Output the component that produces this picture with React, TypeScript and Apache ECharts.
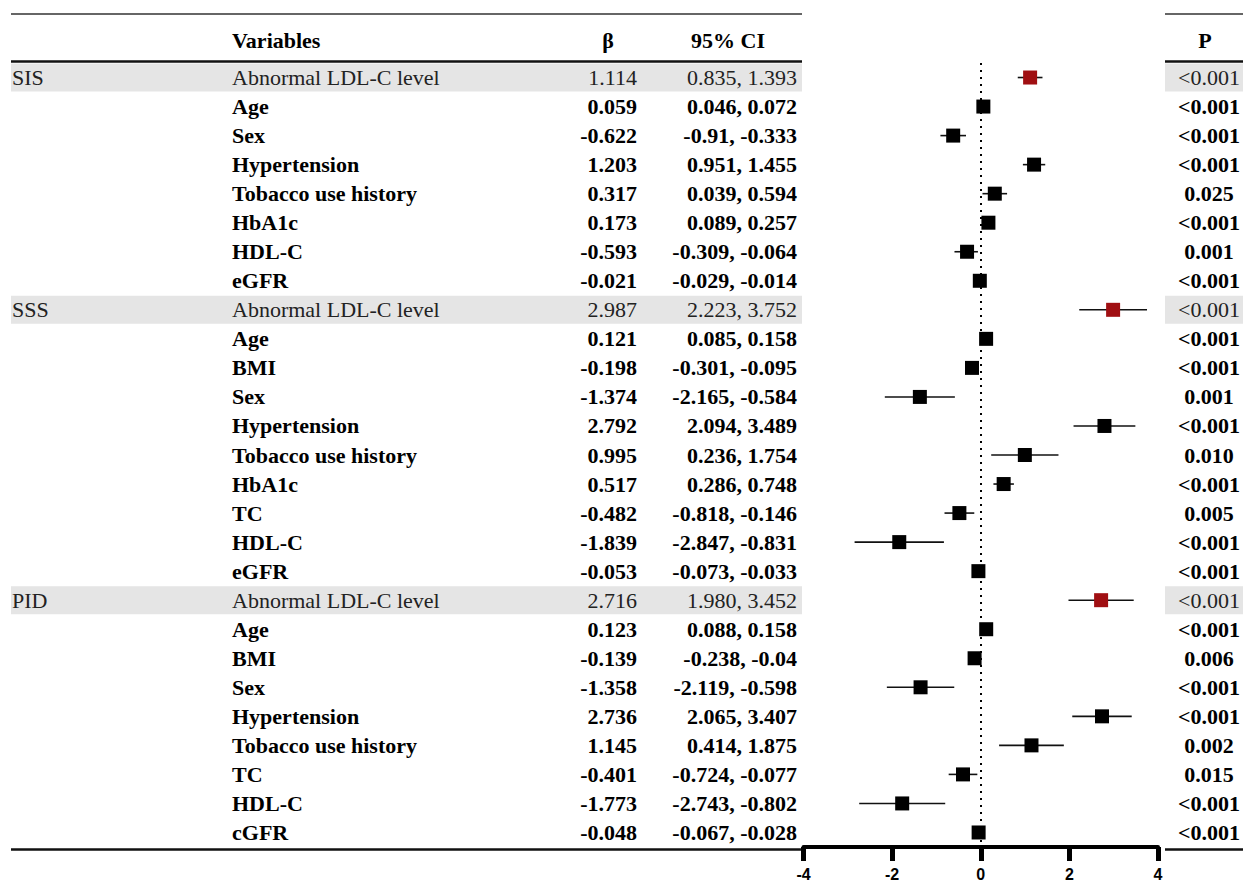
import React, { useEffect, useRef } from "react";
import * as echarts from "echarts";

const groupLabels = [
  "SIS", "", "", "", "", "", "", "",
  "SSS", "", "", "", "", "", "", "", "", "",
  "PID", "", "", "", "", "", "", "", "",
];
const variables = [
  "Abnormal LDL-C level", "Age", "Sex", "Hypertension", "Tobacco use history", "HbA1c", "HDL-C", "eGFR",
  "Abnormal LDL-C level", "Age", "BMI", "Sex", "Hypertension", "Tobacco use history", "HbA1c", "TC", "HDL-C", "eGFR",
  "Abnormal LDL-C level", "Age", "BMI", "Sex", "Hypertension", "Tobacco use history", "TC", "HDL-C", "cGFR",
];
const betaText = [
  "1.114", "0.059", "-0.622", "1.203", "0.317", "0.173", "-0.593", "-0.021",
  "2.987", "0.121", "-0.198", "-1.374", "2.792", "0.995", "0.517", "-0.482", "-1.839", "-0.053",
  "2.716", "0.123", "-0.139", "-1.358", "2.736", "1.145", "-0.401", "-1.773", "-0.048",
];
const ciLowText = [
  "0.835", "0.046", "-0.91", "0.951", "0.039", "0.089", "-0.309", "-0.029",
  "2.223", "0.085", "-0.301", "-2.165", "2.094", "0.236", "0.286", "-0.818", "-2.847", "-0.073",
  "1.980", "0.088", "-0.238", "-2.119", "2.065", "0.414", "-0.724", "-2.743", "-0.067",
];
const ciHighText = [
  "1.393", "0.072", "-0.333", "1.455", "0.594", "0.257", "-0.064", "-0.014",
  "3.752", "0.158", "-0.095", "-0.584", "3.489", "1.754", "0.748", "-0.146", "-0.831", "-0.033",
  "3.452", "0.158", "-0.04", "-0.598", "3.407", "1.875", "-0.077", "-0.802", "-0.028",
];
const pText = [
  "<0.001", "<0.001", "<0.001", "<0.001", "0.025", "<0.001", "0.001", "<0.001",
  "<0.001", "<0.001", "<0.001", "0.001", "<0.001", "0.010", "<0.001", "0.005", "<0.001", "<0.001",
  "<0.001", "<0.001", "0.006", "<0.001", "<0.001", "0.002", "0.015", "<0.001", "<0.001",
];
const xMin = -4;
const xMax = 4;
const xInterval = 2;

const SERIF = "'Liberation Serif', 'Times New Roman', serif";
const SANS = "'Liberation Sans', Arial, sans-serif";
const RED = "#a00f12";
const BAND = "#e5e5e5";

export default function App() {
  const ref = useRef<HTMLDivElement>(null);

  useEffect(() => {
    document.body.style.margin = "0";
    const chart = echarts.init(ref.current!, null, { renderer: "svg" });

    const n = variables.length;
    const rows = variables.map((_, i) => {
      const vals = [Number(betaText[i]), Number(ciLowText[i]), Number(ciHighText[i])].sort((a, b) => a - b);
      return { i, lo: vals[0], mid: vals[1], hi: vals[2], head: groupLabels[i] !== "" };
    });

    const txt = (x: number, y: number, text: string, align: string, head: boolean) => ({
      type: "text",
      x,
      y,
      style: {
        text,
        fontFamily: SERIF,
        fontSize: 22,
        fontWeight: head ? "normal" : "bold",
        fill: head ? "#222" : "#000",
        align,
        verticalAlign: "middle",
      },
    });

    const option: any = {
      animation: false,
      grid: { left: 803.5, width: 354.5, top: 63, height: 786 },
      xAxis: {
        type: "value",
        min: xMin,
        max: xMax,
        interval: xInterval,
        splitLine: { show: false },
        axisLine: { show: true, onZero: false, lineStyle: { color: "#000", width: 4 } },
        axisTick: { show: true, length: 14, lineStyle: { color: "#000", width: 5 } },
        axisLabel: { color: "#000", fontFamily: SANS, fontWeight: "bold", fontSize: 16, margin: 19 },
      },
      yAxis: {
        type: "value",
        inverse: true,
        min: -0.5,
        max: n - 0.5,
        show: false,
      },
      graphic: [
        { type: "line", shape: { x1: 11, y1: 14, x2: 802, y2: 14 }, style: { stroke: "#333", lineWidth: 1.5 } },
        { type: "line", shape: { x1: 1165, y1: 14, x2: 1243, y2: 14 }, style: { stroke: "#333", lineWidth: 1.5 } },
        { type: "line", shape: { x1: 11, y1: 61.5, x2: 802, y2: 61.5 }, style: { stroke: "#111", lineWidth: 2.5 } },
        { type: "line", shape: { x1: 1165, y1: 61.5, x2: 1243, y2: 61.5 }, style: { stroke: "#111", lineWidth: 2.5 } },
        { type: "line", shape: { x1: 11, y1: 849.5, x2: 802, y2: 849.5 }, style: { stroke: "#111", lineWidth: 2.5 } },
        { type: "line", shape: { x1: 1165, y1: 849.5, x2: 1243, y2: 849.5 }, style: { stroke: "#111", lineWidth: 2.5 } },
        { type: "text", x: 232, y: 40, style: { text: "Variables", fontFamily: SERIF, fontSize: 22, fontWeight: "bold", fill: "#000", align: "left", verticalAlign: "middle" } },
        { type: "text", x: 608, y: 40, style: { text: "β", fontFamily: SERIF, fontSize: 22, fontWeight: "bold", fill: "#000", align: "center", verticalAlign: "middle" } },
        { type: "text", x: 728, y: 40, style: { text: "95% CI", fontFamily: SERIF, fontSize: 22, fontWeight: "bold", fill: "#000", align: "center", verticalAlign: "middle" } },
        { type: "text", x: 1205, y: 40, style: { text: "P", fontFamily: SERIF, fontSize: 22, fontWeight: "bold", fill: "#000", align: "center", verticalAlign: "middle" } },
      ],
      series: [
        {
          type: "custom",
          name: "table",
          clip: false,
          silent: true,
          data: rows.map((r) => [0, r.i]),
          encode: { x: 0, y: 1 },
          renderItem: (params: any, api: any) => {
            const i = api.value(1);
            const y = api.coord([0, i])[1];
            const h = api.size([0, 1])[1];
            const head = groupLabels[i] !== "";
            const children: any[] = [];
            if (head) {
              children.push({ type: "rect", shape: { x: 11, y: y - h / 2 + 0.5, width: 791, height: h - 1 }, style: { fill: BAND } });
              children.push({ type: "rect", shape: { x: 1165, y: y - h / 2 + 0.5, width: 78, height: h - 1 }, style: { fill: BAND } });
              children.push(txt(12, y, groupLabels[i], "left", head));
            }
            children.push(txt(232, y, variables[i], "left", head));
            children.push(txt(637, y, betaText[i], "right", head));
            children.push(txt(797, y, ciLowText[i] + ", " + ciHighText[i], "right", head));
            children.push(txt(1209, y, pText[i], "center", head));
            return { type: "group", children };
          },
        },
        {
          type: "custom",
          name: "ci",
          silent: true,
          data: rows.map((r) => [r.lo, r.hi, r.i]),
          encode: { x: [0, 1], y: 2 },
          renderItem: (params: any, api: any) => {
            const p1 = api.coord([api.value(0), api.value(2)]);
            const p2 = api.coord([api.value(1), api.value(2)]);
            return {
              type: "line",
              shape: { x1: p1[0], y1: p1[1], x2: p2[0], y2: p2[1] },
              style: { stroke: "#111", lineWidth: 1.6 },
            };
          },
          z: 3,
        },
        {
          type: "scatter",
          name: "beta",
          symbol: "rect",
          symbolSize: 14,
          silent: true,
          data: rows.map((r) => ({
            value: [r.mid, r.i],
            itemStyle: { color: r.head ? RED : "#000", opacity: 1 },
          })),
          z: 4,
          markLine: {
            silent: true,
            symbol: "none",
            label: { show: false },
            lineStyle: { color: "#000", type: [2, 5], width: 2 },
            data: [{ xAxis: 0 }],
          },
        },
      ],
    };

    chart.setOption(option);
    return () => chart.dispose();
  }, []);

  return <div ref={ref} style={{ width: 1243, height: 882 }} />;
}
